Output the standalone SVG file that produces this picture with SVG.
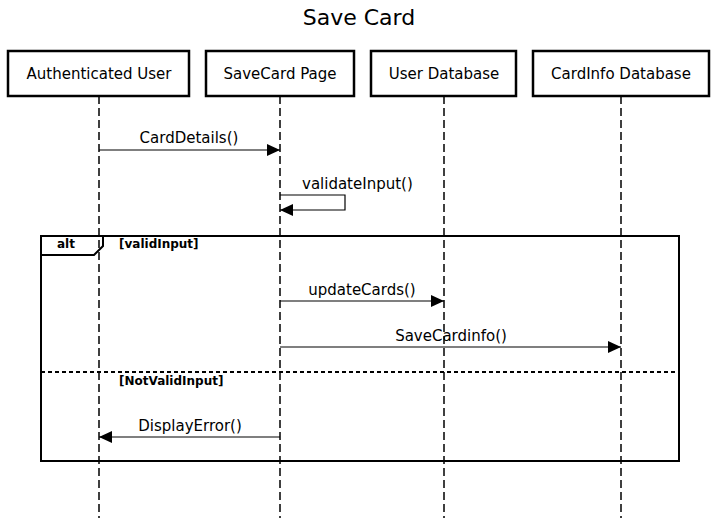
<svg xmlns="http://www.w3.org/2000/svg" width="717" height="518" viewBox="0 0 717 518">
<style>
text{font-family:"DejaVu Sans","Liberation Sans",sans-serif;fill:#000}
.box{fill:#fff;stroke:#000;stroke-width:2.5}
.lbl{font-size:15px;text-anchor:middle}
.life{stroke:#000;stroke-width:1.5;stroke-dasharray:8,4;fill:none}
.msg{stroke:#000;stroke-width:1.2;fill:none}
.frame{fill:none;stroke:#000;stroke-width:2}
.guard{font-size:12px;font-weight:bold}
</style>
<defs>
<marker id="ah" markerWidth="13" markerHeight="12" refX="13" refY="6" orient="auto" markerUnits="userSpaceOnUse">
<path d="M0,0 L13,6 L0,12 z" fill="#000"/>
</marker>
</defs>
<rect width="717" height="518" fill="#fff"/>
<text x="359" y="25" font-size="22" text-anchor="middle">Save Card</text>
<g id="lifelines">
<line class="life" x1="99" y1="96" x2="99" y2="518"/>
<line class="life" x1="280" y1="96" x2="280" y2="518"/>
<line class="life" x1="444" y1="96" x2="444" y2="518"/>
<line class="life" x1="621" y1="96" x2="621" y2="518"/>
</g>
<g id="user"><rect class="box" x="8" y="51" width="181" height="45"/><text class="lbl" x="99" y="79">Authenticated User</text></g>
<g id="page"><rect class="box" x="206" y="51" width="148" height="45"/><text class="lbl" x="280" y="79">SaveCard Page</text></g>
<g id="userdb"><rect class="box" x="371" y="51" width="145" height="45"/><text class="lbl" x="444" y="79">User Database</text></g>
<g id="carddb"><rect class="box" x="533" y="51" width="176" height="45"/><text class="lbl" x="621" y="79">CardInfo Database</text></g>
<g id="alt">
<rect class="frame" x="41" y="236" width="638" height="225"/>
<path class="frame" d="M41,255 L94,255 L103,246 L103,236"/>
<text class="guard" x="57" y="248">alt</text>
<text class="guard" x="119" y="248">[validInput]</text>
<line x1="41" y1="372" x2="679" y2="372" stroke="#000" stroke-width="2" stroke-dasharray="4,3"/>
<text class="guard" x="119" y="385">[NotValidInput]</text>
</g>
<g id="connectors">
<line class="msg" x1="99" y1="150" x2="280" y2="150" marker-end="url(#ah)"/>
<text class="lbl" x="189" y="143">CardDetails()</text>
<polyline class="msg" points="280,195 345,195 345,210 280,210" marker-end="url(#ah)"/>
<text x="302" y="189" font-size="15">validateInput()</text>
<line class="msg" x1="280" y1="301" x2="444" y2="301" marker-end="url(#ah)"/>
<text class="lbl" x="362" y="295">updateCards()</text>
<line class="msg" x1="280" y1="347" x2="621" y2="347" marker-end="url(#ah)"/>
<text class="lbl" x="451" y="341">SaveCardinfo()</text>
<line class="msg" x1="280" y1="437" x2="99" y2="437" marker-end="url(#ah)"/>
<text class="lbl" x="190" y="431">DisplayError()</text>
</g>
</svg>
